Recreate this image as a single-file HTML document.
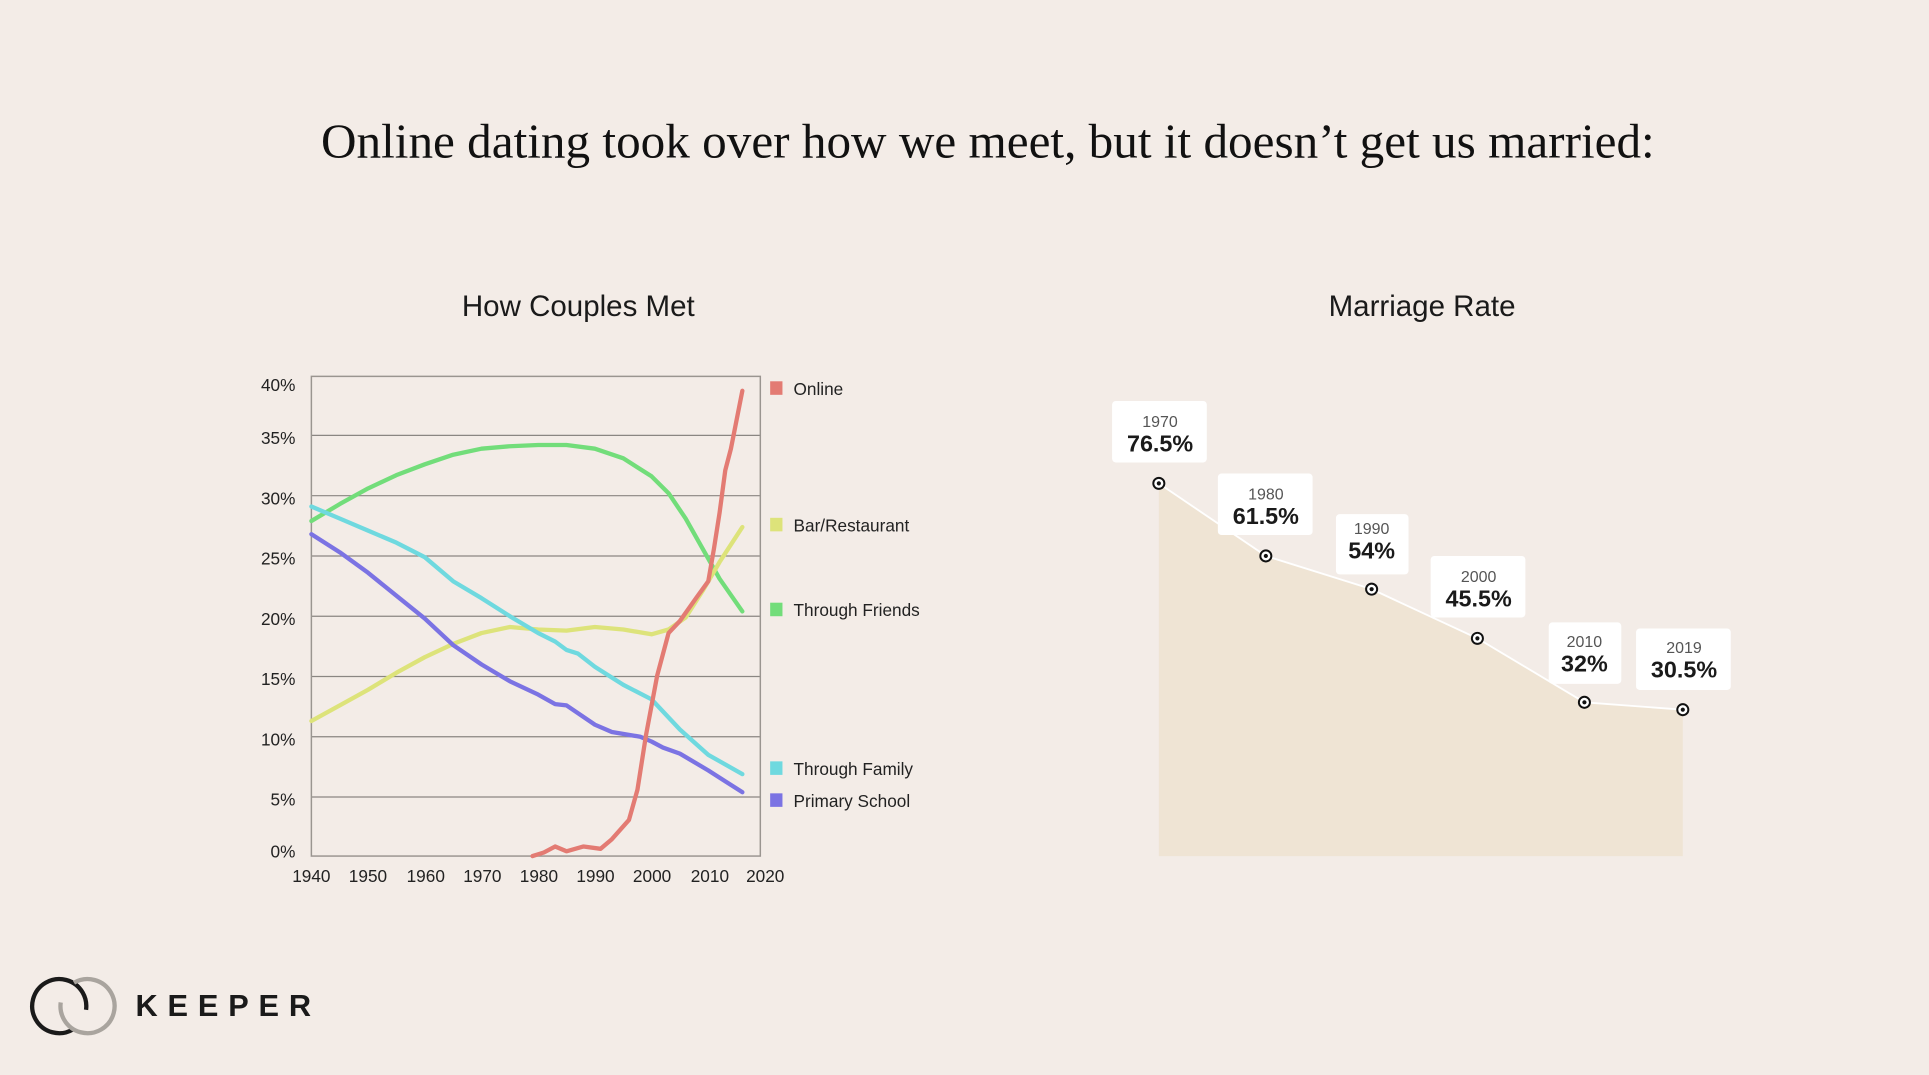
<!DOCTYPE html>
<html><head><meta charset="utf-8"><style>
html,body{margin:0;padding:0;background:#f3ece7;}
svg{display:block;}
</style></head><body>
<svg width="1929" height="1075" viewBox="0 0 1568 874" xmlns="http://www.w3.org/2000/svg" font-family="Liberation Sans, sans-serif">
<rect width="1568" height="874" fill="#f3ece7"/>
<text x="803" y="128" text-anchor="middle" font-family="Liberation Serif, serif" font-size="40" fill="#111">Online dating took over how we meet, but it doesn’t get us married:</text>
<text x="470" y="257" text-anchor="middle" font-size="24" fill="#1a1a1a">How Couples Met</text>
<text x="1156" y="257" text-anchor="middle" font-size="24" fill="#1a1a1a">Marriage Rate</text>

<g stroke="#8a8682" stroke-width="1">
<line x1="253" y1="354" x2="618" y2="354"/><line x1="253" y1="403" x2="618" y2="403"/>
<line x1="253" y1="452" x2="618" y2="452"/><line x1="253" y1="501" x2="618" y2="501"/>
<line x1="253" y1="550" x2="618" y2="550"/><line x1="253" y1="599" x2="618" y2="599"/>
<line x1="253" y1="648" x2="618" y2="648"/>
</g>
<rect x="253" y="306" width="365" height="390" fill="none" stroke="#9a9590" stroke-width="1.2"/>
<g font-size="14" fill="#222" text-anchor="end">
<text x="240" y="318">40%</text><text x="240" y="361">35%</text><text x="240" y="410">30%</text>
<text x="240" y="459">25%</text><text x="240" y="508">20%</text><text x="240" y="557">15%</text>
<text x="240" y="606">10%</text><text x="240" y="655">5%</text><text x="240" y="697">0%</text>
</g>
<g font-size="14" fill="#222" text-anchor="middle">
<text x="253" y="717">1940</text><text x="299" y="717">1950</text><text x="346" y="717">1960</text>
<text x="392" y="717">1970</text><text x="438" y="717">1980</text><text x="484" y="717">1990</text>
<text x="530" y="717">2000</text><text x="577" y="717">2010</text><text x="622" y="717">2020</text>
</g>
<g id="lines" fill="none" stroke-width="3.5" stroke-linejoin="round" stroke-linecap="round"></g>
<g font-size="14" fill="#222">
<rect x="626" y="310" width="10" height="11" fill="#e37b73"/><text x="645" y="321">Online</text>
<rect x="626" y="421" width="10" height="11" fill="#dde37a"/><text x="645" y="432">Bar/Restaurant</text>
<rect x="626" y="490" width="10" height="11" fill="#72dd7a"/><text x="645" y="501">Through Friends</text>
<rect x="626" y="619" width="10" height="11" fill="#6fd9df"/><text x="645" y="630">Through Family</text>
<rect x="626" y="645" width="10" height="11" fill="#7b73e3"/><text x="645" y="656">Primary School</text>
</g>

<path d="M942,393 L1029,452 L1115,479 L1201,519 L1288,571 L1368,577 L1368,696 L942,696 Z" fill="#efe4d4"/>
<polyline points="942,393 1029,452 1115,479 1201,519 1288,571 1368,577" fill="none" stroke="#fff" stroke-width="1.5"/>
<g fill="#fff">
<rect x="904" y="326" width="77" height="50" rx="3"/>
<rect x="990" y="385" width="77" height="50" rx="3"/>
<rect x="1086" y="418" width="59" height="49" rx="3"/>
<rect x="1163" y="452" width="77" height="50" rx="3"/>
<rect x="1259" y="506" width="59" height="50" rx="3"/>
<rect x="1330" y="511" width="77" height="50" rx="3"/>
</g>
<g text-anchor="middle">
<g font-size="13" fill="#555">
<text x="943" y="347">1970</text><text x="1029" y="406">1980</text><text x="1115" y="434">1990</text>
<text x="1202" y="473">2000</text><text x="1288" y="526">2010</text><text x="1369" y="531">2019</text>
</g>
<g font-size="19" font-weight="bold" fill="#1a1a1a">
<text x="943" y="367">76.5%</text><text x="1029" y="426">61.5%</text><text x="1115" y="454">54%</text>
<text x="1202" y="493">45.5%</text><text x="1288" y="546">32%</text><text x="1369" y="551">30.5%</text>
</g>
</g>
<g fill="#fff" stroke="#111" stroke-width="1.6">
<circle cx="942" cy="393" r="4.5"/><circle cx="1029" cy="452" r="4.5"/><circle cx="1115" cy="479" r="4.5"/>
<circle cx="1201" cy="519" r="4.5"/><circle cx="1288" cy="571" r="4.5"/><circle cx="1368" cy="577" r="4.5"/>
</g>
<g fill="#111">
<circle cx="942" cy="393" r="1.7"/><circle cx="1029" cy="452" r="1.7"/><circle cx="1115" cy="479" r="1.7"/>
<circle cx="1201" cy="519" r="1.7"/><circle cx="1288" cy="571" r="1.7"/><circle cx="1368" cy="577" r="1.7"/>
</g>

<circle cx="48" cy="818" r="22" fill="none" stroke="#1a1a1a" stroke-width="3.5" stroke-dasharray="118 20" transform="rotate(60 48 818)"/>
<circle cx="71" cy="818" r="22" fill="none" stroke="#a9a49e" stroke-width="3.5" stroke-dasharray="118 20" transform="rotate(-120 71 818)"/>
<text x="110" y="826" font-size="25" font-weight="bold" fill="#1a1a1a" letter-spacing="8">KEEPER</text>
</svg>
<script>
var g=document.getElementById('lines');
function X(y){return 253+(y-1940)*46.1/10;}
function Y(v){return 696-v*9.8;}
var S=[
["#72dd7a",[[1940,27.8],[1945,29.2],[1950,30.5],[1955,31.6],[1960,32.5],[1965,33.3],[1970,33.8],[1975,34],[1980,34.1],[1985,34.1],[1990,33.8],[1995,33],[2000,31.5],[2003,30.1],[2006,28],[2009,25.5],[2012,23],[2016,20.3]]],
["#dde37a",[[1940,11.2],[1945,12.5],[1950,13.8],[1955,15.2],[1960,16.5],[1965,17.6],[1970,18.5],[1975,19],[1980,18.8],[1985,18.7],[1990,19],[1995,18.8],[2000,18.4],[2003,18.8],[2006,19.8],[2009,22],[2012,24.4],[2016,27.3]]],
["#6fd9df",[[1940,29],[1945,28],[1950,27],[1955,26],[1960,24.8],[1965,22.8],[1970,21.4],[1975,19.9],[1980,18.5],[1983,17.8],[1985,17.1],[1987,16.8],[1990,15.7],[1995,14.2],[2000,13],[2005,10.5],[2010,8.4],[2016,6.8]]],
["#7b73e3",[[1940,26.7],[1945,25.2],[1950,23.5],[1955,21.6],[1960,19.7],[1965,17.5],[1970,15.9],[1975,14.5],[1980,13.4],[1983,12.6],[1985,12.5],[1990,10.9],[1993,10.3],[1998,9.9],[2000,9.5],[2002,9],[2005,8.5],[2010,7.1],[2013,6.2],[2016,5.3]]],
["#e37b73",[[1979,0],[1981,0.3],[1983,0.8],[1985,0.4],[1988,0.8],[1991,0.6],[1993,1.4],[1996,3],[1997.5,5.5],[1999,10],[2001,15],[2003,18.5],[2005,19.5],[2008,21.5],[2010,22.8],[2011,25.5],[2012,28.5],[2013,32],[2014,33.8],[2016,38.6]]]
];
S.forEach(function(s){var p=document.createElementNS("http://www.w3.org/2000/svg","polyline");
p.setAttribute("points",s[1].map(function(d){return X(d[0]).toFixed(1)+","+Y(d[1]).toFixed(1)}).join(" "));
p.setAttribute("stroke",s[0]);g.appendChild(p);});
</script>
</body></html>
